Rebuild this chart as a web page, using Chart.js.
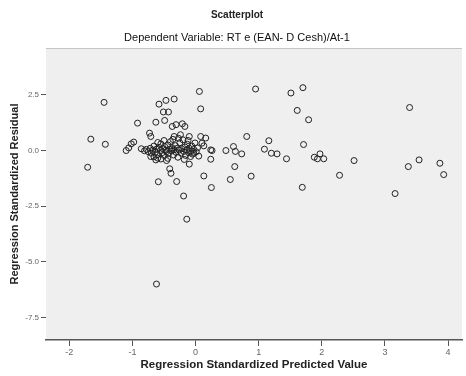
<!DOCTYPE html>
<html>
<head>
<meta charset="utf-8">
<script src="https://cdn.jsdelivr.net/npm/chart.js@4.4.1/dist/chart.umd.min.js"></script>
<style>
  html, body { margin: 0; padding: 0; background: #fff; }
  #wrap { width: 466px; height: 376px; }
</style>
</head>
<body>
<div id="wrap"><canvas id="scatterChart"></canvas></div>
<script>
// Regression standardized predicted value (x) and residual (y)
const predicted = [
  -1.71, -1.66, -1.45, -1.43, -1.10, -1.06, -1.02, -0.98, -0.92, -0.86,
  -0.81, -0.73, -0.71, -0.63, -0.58, -0.47, -0.34, -0.51, -0.43, -0.49,
  -0.37, -0.31, -0.21, -0.17, -0.34, -0.24, -0.10, 0.08, 0.16, 0.06,
  0.08, 0.10, 0.13, 0.24, 0.26, 0.24, 0.48, 0.60, 0.63, 0.73,
  0.62, 0.55, 0.13, 0.25, -0.19, -0.14, -0.62, -0.59, -0.30, -0.41,
  -0.39, -0.10, -0.60, -0.63, -0.71, -0.08, -0.03, 0.81, 0.95, 0.88,
  1.09, 1.16, 1.20, 1.29, 1.44, 1.51, 1.70, 1.61, 1.79, 1.71,
  1.69, 1.88, 1.93, 1.97, 2.03, 2.28, 2.51, 3.16, 3.37, 3.39,
  3.54, 3.87, 3.93,
  -0.78, -0.75, -0.72, -0.70, -0.68, -0.66, -0.64, -0.62, -0.60, -0.58,
  -0.56, -0.55, -0.53, -0.52, -0.50, -0.49, -0.47, -0.46, -0.44, -0.43,
  -0.41, -0.40, -0.38, -0.37, -0.35, -0.34, -0.32, -0.31, -0.29, -0.28,
  -0.26, -0.25, -0.23, -0.22, -0.20, -0.19, -0.17, -0.16, -0.14, -0.13,
  -0.11, -0.10, -0.08, -0.06, -0.05, -0.03, -0.01, 0.01, 0.03, -0.44,
  -0.55, -0.66, -0.18, -0.27, -0.50, -0.60, -0.36, -0.12, 0.05, -0.46
];
const residual = [
  -0.75, 0.51, 2.16, 0.28, 0.00, 0.12, 0.30, 0.38, 1.23, 0.08,
  -0.01, 0.78, 0.63, 1.27, 2.08, 2.25, 2.31, 1.73, 1.73, 1.35,
  1.08, 1.16, 1.20, 1.08, 0.63, 0.71, 0.63, 0.63, 0.56, 2.65,
  1.87, 0.33, 0.21, 0.03, 0.00, -0.39, 0.00, 0.18, -0.04, -0.15,
  -0.72, -1.30, -1.14, -1.66, -2.04, -3.08, -5.99, -1.40, -1.39, -0.82,
  -1.02, -0.61, -0.34, -0.42, -0.27, -0.27, -0.12, 0.63, 2.76, -1.15,
  0.06, 0.44, -0.12, -0.15, -0.37, 2.58, 2.82, 1.80, 1.38, 0.27,
  -1.65, -0.30, -0.37, -0.15, -0.37, -1.11, -0.45, -1.93, -0.72, 1.93,
  -0.42, -0.57, -1.08,
  0.05, -0.05, 0.10, -0.12, 0.02, 0.20, -0.08, 0.06, -0.18, 0.14,
  0.00, 0.30, -0.10, 0.08, -0.22, 0.18, 0.02, -0.05, 0.25, -0.14,
  0.06, 0.40, -0.02, 0.12, -0.20, 0.04, 0.22, -0.08, 0.10, -0.30,
  0.02, 0.35, -0.12, 0.08, 0.48, -0.04, 0.16, -0.22, 0.03, 0.28,
  -0.10, 0.10, -0.02, 0.20, -0.16, 0.05, 0.34, -0.06, 0.12, -0.35,
  -0.38, -0.28, -0.40, 0.55, 0.45, 0.36, 0.50, 0.45, -0.25, -0.45
];
const xTicks = [-2, -1, 0, 1, 2, 3, 4];
const yTicks = [-7.5, -5.0, -2.5, 0.0, 2.5];

const points = predicted.map((x, i) => ({ x: x, y: residual[i] }));

// paint the grey plot area like the SPSS output
const plotBackground = {
    id: 'plotBackground',
    beforeDraw(chart) {
        const { ctx, chartArea: a } = chart;
        ctx.save();
        ctx.fillStyle = '#efefef';
        ctx.fillRect(a.left, a.top, a.right - a.left, a.bottom - a.top);
        ctx.strokeStyle = '#c4c4c4';
        ctx.lineWidth = 1;
        ctx.beginPath();
        ctx.moveTo(a.left, a.top + 0.5);
        ctx.lineTo(a.right, a.top + 0.5);
        ctx.stroke();
        ctx.restore();
    }
};

const ctx = document.getElementById('scatterChart').getContext('2d');
const scatterChart = new Chart(ctx, {
    type: 'scatter',
    data: {
        datasets: [{
            data: points,
            pointStyle: 'circle',
            pointRadius: 3,
            pointHoverRadius: 3,
            backgroundColor: 'rgba(0,0,0,0)',
            borderColor: '#222',
            borderWidth: 1
        }]
    },
    options: {
        responsive: true,
        maintainAspectRatio: false,
        animation: false,
        layout: { padding: { left: 8, right: 0, top: 0, bottom: 4 } },
        plugins: {
            legend: { display: false },
            tooltip: { enabled: false },
            title: {
                display: true,
                text: 'Scatterplot',
                color: '#222',
                font: { family: 'Liberation Sans, Arial, sans-serif', size: 10, weight: 'bold' },
                padding: { top: 9, bottom: 5 }
            },
            subtitle: {
                display: true,
                text: 'Dependent Variable: RT e (EAN- D Cesh)/At-1',
                color: '#111',
                font: { family: 'Liberation Sans, Arial, sans-serif', size: 11 },
                padding: { top: 5, bottom: 3.8 }
            }
        },
        scales: {
            x: {
                type: 'linear',
                min: -2.37,
                max: 4.22,
                afterBuildTicks: scale => { scale.ticks = xTicks.map(v => ({ value: v })); },
                afterFit: scale => { scale.height = 32; },
                grid: { drawOnChartArea: false, drawTicks: true, tickLength: 6, color: '#555' },
                border: { display: true, color: '#555', width: 1.5 },
                ticks: {
                    color: '#666',
                    padding: 1,
                    font: { family: 'Liberation Sans, Arial, sans-serif', size: 9 },
                    callback: v => String(v)
                },
                title: {
                    display: true,
                    text: 'Regression Standardized Predicted Value',
                    color: '#222',
                    padding: { top: 2, bottom: 0 },
                    font: { family: 'Liberation Sans, Arial, sans-serif', size: 11.5, weight: 'bold' }
                }
            },
            y: {
                type: 'linear',
                min: -8.5,
                max: 4.6,
                afterBuildTicks: scale => { scale.ticks = yTicks.map(v => ({ value: v })); },
                afterFit: scale => { scale.width = 38; },
                grid: { drawOnChartArea: false, drawTicks: true, tickLength: 5, color: '#555' },
                border: { display: false },
                ticks: {
                    color: '#666',
                    padding: 2,
                    font: { family: 'Liberation Sans, Arial, sans-serif', size: 8 },
                    callback: v => v.toFixed(1)
                },
                title: {
                    display: true,
                    text: 'Regression Standardized Residual',
                    color: '#222',
                    padding: { top: 0, bottom: 2 },
                    font: { family: 'Liberation Sans, Arial, sans-serif', size: 11, weight: 'bold' }
                }
            }
        }
    },
    plugins: [plotBackground]
});
</script>
</body>
</html>
